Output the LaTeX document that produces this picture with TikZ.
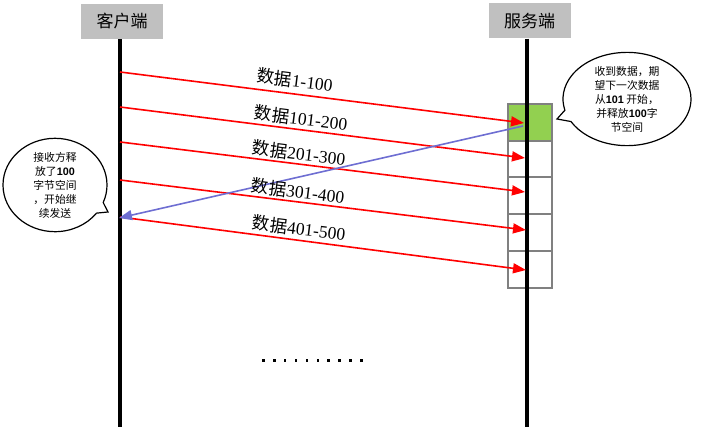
\documentclass[tikz,border=0pt]{standalone}
\usepackage{fontspec}
\setmainfont{Liberation Serif}
\newfontfamily\cjk{Noto Sans CJK SC}
\newfontfamily\lsans{Liberation Sans}
\usetikzlibrary{arrows.meta,shapes.callouts}
\definecolor{hdrgray}{RGB}{192,192,192}
\definecolor{boxgray}{RGB}{128,128,128}
\definecolor{okgreen}{RGB}{146,208,80}
\definecolor{ackblue}{RGB}{110,110,210}
\begin{document}
\begin{tikzpicture}[x=1pt,y=-1pt,
  header/.style={fill=hdrgray, minimum width=82pt, minimum height=35pt, inner sep=0pt,
    font=\cjk\fontsize{17}{17}\selectfont},
  life/.style={line width=3.5pt, black},
  bufbox/.style={draw=boxgray, line width=1.8pt, minimum width=44pt, minimum height=36.8pt, inner sep=0pt},
  data/.style={red, line width=1.6pt, -{Triangle[length=13pt,width=10pt]}},
  ack/.style={ackblue, line width=1.6pt, -{Triangle[length=13pt,width=10pt]}},
  lbl/.style={rotate=-7, inner sep=0pt, font=\fontsize{17.5}{17.5}\selectfont},
  bubble/.style={ellipse callout, draw, line width=1.2pt, fill=white, align=center, inner sep=0pt,
    font=\cjk\fontsize{10.8}{14}\selectfont},
  dot/.style={fill=black}
]
\useasboundingbox (0,0) rectangle (702,427);

% headers
\node[header] (c) at (122,21.5) {客户端};
\node[header] (s) at (529.5,21) {服务端};

% buffer boxes
\node[bufbox, fill=okgreen] (k1) at (530,122.5) {};
\node[bufbox] (k2) at (530,159) {};
\node[bufbox] (k3) at (530,196) {};
\node[bufbox] (k4) at (530,232.5) {};
\node[bufbox] (k5) at (530,269.5) {};

% lifelines
\coordinate (cb) at (120,427);
\coordinate (sb) at (527,427);
\draw[life] (c.south -| cb) -- (cb);
\draw[life] (s.south -| sb) -- (sb);

% endpoints
\coordinate (a1) at (120,72);  \coordinate (b1) at (524,123);
\coordinate (a2) at (120,107); \coordinate (b2) at (525,158);
\coordinate (a3) at (120,142); \coordinate (b3) at (525,192);
\coordinate (a4) at (120,180); \coordinate (b4) at (526,230);
\coordinate (a5) at (120,217); \coordinate (b5) at (526,270);
\coordinate (r1) at (523,126); \coordinate (r2) at (119,218);

\draw[data] (a1) -- (b1);
\draw[data] (a2) -- (b2);
\draw[data] (a3) -- (b3);
\draw[data] (a4) -- (b4);
\draw[data] (a5) -- (b5);
\draw[ack] (r1) -- (r2);

% labels
\node[lbl] (l1) at (295,80) {{\cjk 数据}1-100};
\node[lbl] (l2) at (301,118) {{\cjk 数据}101-200};
\node[lbl] (l3) at (299,153) {{\cjk 数据}201-300};
\node[lbl] (l4) at (298,191) {{\cjk 数据}301-400};
\node[lbl] (l5) at (299,228) {{\cjk 数据}401-500};

% callouts
\node[bubble, minimum width=128pt, minimum height=82pt,
  callout absolute pointer={(557,119)}] (q1) at (627,99)
  {收到数据，期\\望下一次数据\\从{\lsans\bfseries 101} 开始，\\并释放{\lsans\bfseries 100}字\\节空间};
\node[bubble, minimum width=104pt, minimum height=82pt,
  callout absolute pointer={(108,212)}] (q2) at (55,185)
  {接收方释\\放了{\lsans\bfseries 100}\\字节空间\\，开始继\\续发送};

% dots
\foreach \i in {0,...,9} {
  \fill[dot] ({262+\i*10.9},359) rectangle +(2.6,2.6);
}
\end{tikzpicture}
\end{document}
